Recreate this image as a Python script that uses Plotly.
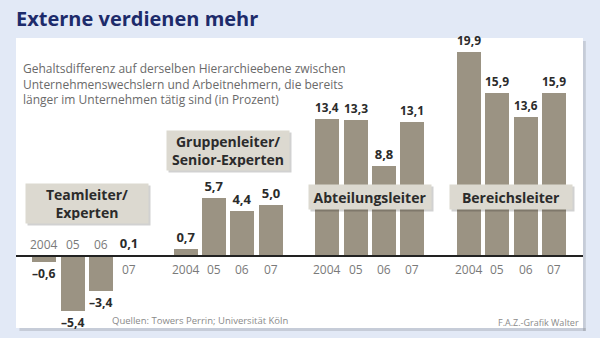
import plotly.graph_objects as go

# Salary gap (percent) of job-changers vs. long-tenured employees, by level and year
groups = ["Teamleiter/<br>Experten", "Gruppenleiter/<br>Senior-Experten",
          "Abteilungsleiter", "Bereichsleiter"]
years = ["2004", "05", "06", "07"]
team = [-0.6, -5.4, -3.4, 0.1]
gruppe = [0.7, 5.7, 4.4, 5.0]
abteilung = [13.4, 13.3, 8.8, 13.1]
bereich = [19.9, 15.9, 13.6, 15.9]
series = [team, gruppe, abteilung, bereich]

title = "Externe verdienen mehr"
subtitle = ["Gehaltsdifferenz auf derselben Hierarchieebene zwischen",
            "Unternehmenswechslern und Arbeitnehmern, die bereits",
            "länger im Unternehmen tätig sind (in Prozent)"]
source = "Quellen: Towers Perrin; Universität Köln"
credit = "F.A.Z.-Grafik Walter"

BAR = "#9b9383"
BOX = "#dcd9d0"
TXT = "#2b2b2b"
GREY = "#7a7a7a"
FONT = "Open Sans"

def fmt(v):
    s = f"{abs(v):.1f}".replace(".", ",")
    return ("–" + s) if v < 0 else s

xs, ys, labels, yr = [], [], [], []
for g, vals in enumerate(series):
    for i, v in enumerate(vals):
        xs.append(g * 5 + i)
        ys.append(v)
        labels.append(fmt(v))
        yr.append(years[i])

fig = go.Figure(go.Bar(
    x=xs, y=ys, width=0.85, marker=dict(color=BAR, line=dict(width=0)),
    text=labels, textposition="outside", cliponaxis=False,
    textfont=dict(family=FONT, size=13, color=TXT, weight="bold"),
    hoverinfo="skip",
))

annotations = []
# year labels sit on the opposite side of the zero line from the bar
for x, v, label in zip(xs, ys, yr):
    annotations.append(dict(
        x=x, y=0, xref="x", yref="y", text=label, showarrow=False,
        yshift=12 if v < 0 else -13,
        font=dict(family=FONT, size=12, color=GREY),
    ))

# group label boxes with a soft drop shadow
box_pos = [(1.5, 5.1, 33), (6.5, 10.3, 33), (11.5, 5.75, 18), (16.5, 5.75, 18)]
for name, (bx, by, h) in zip(groups, box_pos):
    for shadow in (True, False):
        annotations.append(dict(
            x=bx, y=by, xref="x", yref="y", text=name if not shadow else "",
            showarrow=False, width=116, height=h, borderpad=3,
            bgcolor="rgba(0,0,0,0.18)" if shadow else BOX,
            xshift=2 if shadow else 0, yshift=-2 if shadow else 0,
            font=dict(family=FONT, size=14, color=TXT, weight="bold"),
        ))

annotations.append(dict(
    x=5 / 567, y=1 - 20 / 290, xref="paper", yref="paper",
    xanchor="left", yanchor="top", align="left", text="<br>".join(subtitle),
    showarrow=False, font=dict(family=FONT, size=12, color="#6a6a6a"),
))

annotations.append(dict(
    x=(290 - 16) / 567, y=(328 - 320) / 290, xref="paper", yref="paper",
    xanchor="right", yanchor="middle", text=source, showarrow=False,
    font=dict(family=FONT, size=9.5, color="#8a8a8a"),
))
annotations.append(dict(
    x=(581 - 16) / 567, y=(328 - 322) / 290, xref="paper", yref="paper",
    xanchor="right", yanchor="middle", text=credit, showarrow=False,
    font=dict(family=FONT, size=9, color="#8a8a8a"),
))

fig.update_layout(
    width=600, height=338,
    margin=dict(l=16, r=17, t=38, b=10),
    paper_bgcolor="#e2e9f6", plot_bgcolor="#ffffff",
    showlegend=False, bargap=0,
    title=dict(text=f"<b>{title}</b>", x=16 / 600, xanchor="left",
               y=1 - 19 / 338, yanchor="middle", xref="container", yref="container",
               font=dict(family=FONT, size=20, color="#1d2b6b")),
    xaxis=dict(range=[-1, 19.03], visible=False, fixedrange=True),
    yaxis=dict(range=[-7.02, 21.27], visible=False, zeroline=True,
               fixedrange=True),
    annotations=annotations,
    shapes=[dict(type="line", xref="paper", yref="y", x0=0, x1=1, y0=0, y1=0,
                 line=dict(color="#222222", width=2), layer="above"),
            # thin drop shadow along the panel's bottom and right edges
            dict(type="rect", xref="paper", yref="paper", x0=0.006, x1=1.005,
                 y0=-0.010, y1=0, line=dict(width=0),
                 fillcolor="rgba(0,0,0,0.12)"),
            dict(type="rect", xref="paper", yref="paper", x0=1, x1=1.005,
                 y0=-0.010, y1=0.99, line=dict(width=0),
                 fillcolor="rgba(0,0,0,0.12)")],
)

fig.write_html("out.html")
